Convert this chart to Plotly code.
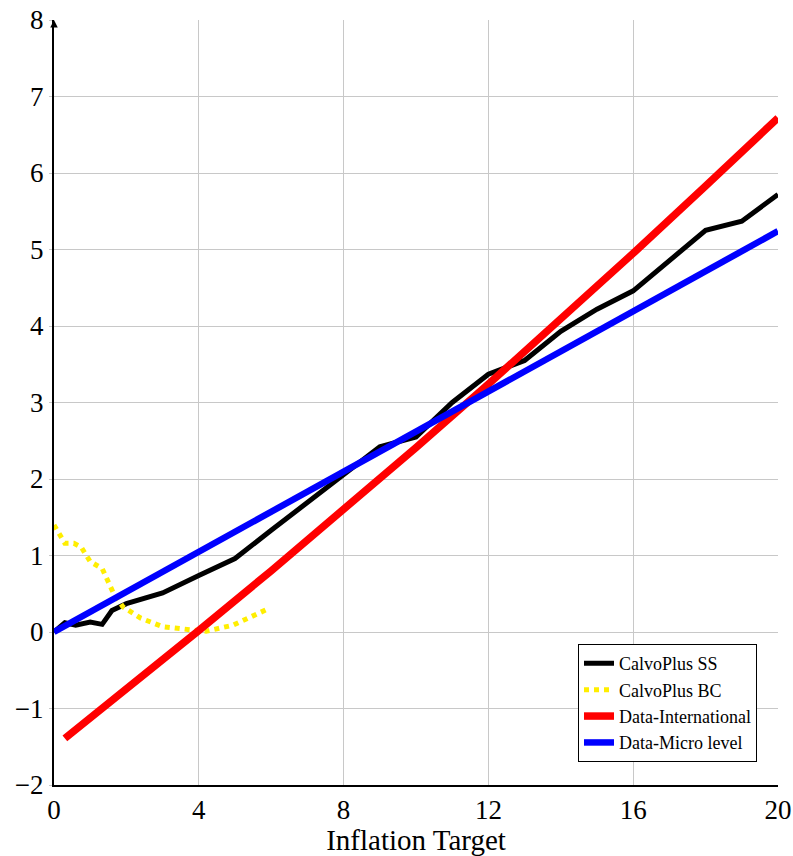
import plotly.graph_objects as go

# Data
ss_x = [0, 0.3, 0.6, 1.0, 1.33, 1.6, 2.0, 3, 4, 5, 6, 7, 8, 9, 10, 11, 12, 13, 14, 15, 16, 17, 18, 19, 20]
ss_y = [0, 0.12, 0.09, 0.13, 0.10, 0.28, 0.37, 0.51, 0.74, 0.96, 1.33, 1.69, 2.05, 2.42, 2.55, 3.00, 3.37, 3.55, 3.93, 4.22, 4.46, 4.86, 5.25, 5.37, 5.72]

bc_x = [0, 0.3, 0.55, 0.75, 1.0, 1.33, 1.63, 1.9, 2.4, 3.0, 3.75, 4.2, 4.95, 5.9]
bc_y = [1.40, 1.16, 1.16, 1.11, 0.92, 0.83, 0.52, 0.33, 0.18, 0.07, 0.03, 0.01, 0.09, 0.30]

int_x = [0.3, 2, 4, 6, 8, 10, 12, 14, 16, 18, 20]
int_y = [-1.39, -0.75, 0.02, 0.80, 1.60, 2.41, 3.24, 4.08, 4.95, 5.83, 6.72]

micro_x = [0, 20]
micro_y = [0, 5.24]

x_ticks = [0, 4, 8, 12, 16, 20]
y_ticks = [-2, -1, 0, 1, 2, 3, 4, 5, 6, 7, 8]

FONT = "Liberation Serif"

fig = go.Figure()
fig.add_trace(go.Scatter(x=ss_x, y=ss_y, mode="lines", name="CalvoPlus SS",
                         line=dict(color="black", width=5)))
fig.add_trace(go.Scatter(x=bc_x, y=bc_y, mode="lines", name="CalvoPlus BC",
                         line=dict(color="#ffee00", width=5, dash="5px,5px")))
fig.add_trace(go.Scatter(x=int_x, y=int_y, mode="lines", name="Data-International",
                         line=dict(color="red", width=7.5)))
fig.add_trace(go.Scatter(x=micro_x, y=micro_y, mode="lines", name="Data-Micro level",
                         line=dict(color="blue", width=6.5)))

fig.update_layout(
    width=793, height=856,
    margin=dict(l=54, r=15, t=20, b=71),
    plot_bgcolor="white", paper_bgcolor="white",
    font=dict(family=FONT, size=27, color="black"),
    legend=dict(x=0.971, y=0.03, xanchor="right", yanchor="bottom",
                bgcolor="white", bordercolor="black", borderwidth=1,
                font=dict(family=FONT, size=18), itemwidth=30,
                tracegroupgap=0),
)
fig.update_xaxes(range=[0, 20], tickvals=x_ticks, showgrid=True, gridcolor="#c8c8c8",
                 gridwidth=1, showline=True, linecolor="black", linewidth=2,
                 ticks="", zeroline=False,
                 automargin=False,
                 title=dict(text="Inflation Target", font=dict(family=FONT, size=29), standoff=4),
                 tickfont=dict(family=FONT, size=27))
fig.update_yaxes(range=[-2, 8], tickvals=y_ticks, showgrid=True, gridcolor="#c8c8c8",
                 gridwidth=1, showline=True, linecolor="black", linewidth=2,
                 ticks="outside", ticklen=3, tickcolor="#c8c8c8", zeroline=False,
                 automargin=False,
                 tickfont=dict(family=FONT, size=27))

# arrow at top of y axis
fig.add_annotation(x=0, y=8, ax=0, ay=7.9, xref="x", yref="y", axref="x", ayref="y",
                   showarrow=True, arrowhead=2, arrowsize=1, arrowwidth=1.5,
                   arrowcolor="black", text="")

fig.write_html("out.html")
